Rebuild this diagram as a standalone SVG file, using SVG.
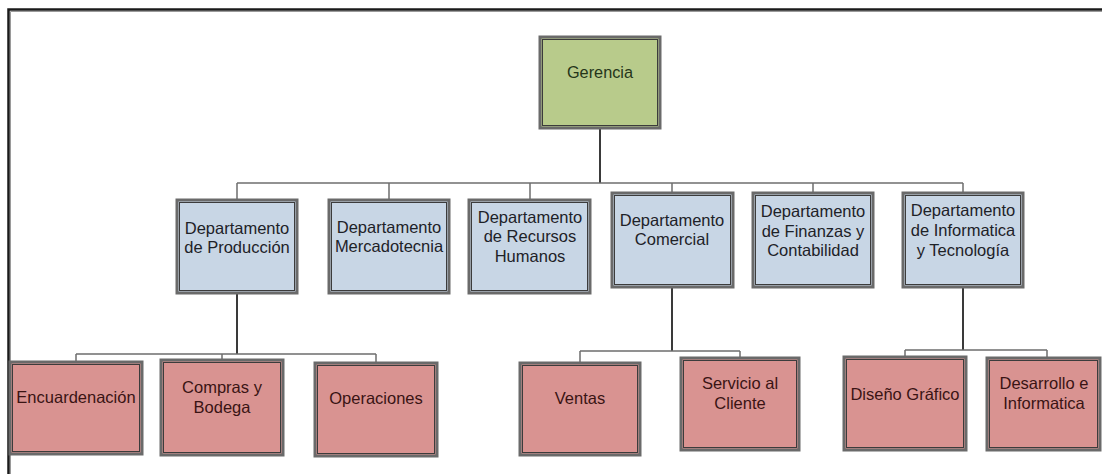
<svg xmlns="http://www.w3.org/2000/svg" width="1102" height="474" viewBox="0 0 1102 474">
<style>
.box{stroke:#6a6a6a;stroke-width:3}
.inner{fill:none;stroke:#3c3c3c;stroke-width:1}
.g{fill:#b8cb8b}
.b{fill:#c8d6e5}
.r{fill:#d99391}
text{font-family:"Liberation Sans",Arial,sans-serif;font-size:16.5px;text-anchor:middle}
.tg{fill:#25351a;font-size:16.3px}
.tb{fill:#1e2228}
.tr{fill:#3a1414}
.thin{stroke:#6e6e6e;stroke-width:1.5;fill:none}
.thick{stroke:#3a3a3a;stroke-width:2;fill:none}
</style>
<rect x="0" y="0" width="1102" height="474" fill="#ffffff"/>
<path d="M8.5,474 V9.5 H1102" fill="none" stroke="#1a1a1a" stroke-width="2.5"/>
<path d="M10.5,474 V11.5 H1102" fill="none" stroke="#9a9a9a" stroke-width="1"/>

<g id="connectors">
  <path class="thick" d="M600,128 V183" stroke="#111"/>
  <path class="thin" d="M237,183 H963"/>
  <path class="thin" d="M237,183 V200 M389,183 V200 M530,183 V200 M672,183 V193 M813,183 V193 M963,183 V193"/>
  <path class="thick" d="M237,293 V354"/>
  <path class="thin" d="M76,354 H376 M76,354 V362 M222,354 V360 M376,354 V363"/>
  <path class="thick" d="M672,287 V351"/>
  <path class="thin" d="M580,351 H740 M580,351 V363 M740,351 V358"/>
  <path class="thick" d="M963,287 V350"/>
  <path class="thin" d="M905,350 H1047 M905,350 V357 M1047,350 V358"/>
</g>

<g id="gerencia">
  <rect class="box g" x="540" y="37" width="120" height="91"/>
  <rect class="inner" x="542.5" y="39.5" width="115" height="86"/>
  <text class="tg" x="600" y="78">Gerencia</text>
</g>

<g id="dep-produccion">
  <rect class="box b" x="177" y="200" width="120" height="93"/>
  <rect class="inner" x="179.5" y="202.5" width="115" height="88"/>
  <text class="tb" x="237" y="234">Departamento</text>
  <text class="tb" x="237" y="253">de Producción</text>
</g>
<g id="dep-mercadotecnia">
  <rect class="box b" x="329" y="200" width="120" height="93"/>
  <rect class="inner" x="331.5" y="202.5" width="115" height="88"/>
  <text class="tb" x="389" y="233">Departamento</text>
  <text class="tb" x="389" y="252">Mercadotecnia</text>
</g>
<g id="dep-recursos">
  <rect class="box b" x="469" y="200" width="121" height="93"/>
  <rect class="inner" x="471.5" y="202.5" width="116" height="88"/>
  <text class="tb" x="530" y="223">Departamento</text>
  <text class="tb" x="530" y="242">de Recursos</text>
  <text class="tb" x="530" y="262">Humanos</text>
</g>
<g id="dep-comercial">
  <rect class="box b" x="612" y="193" width="121" height="94"/>
  <rect class="inner" x="614.5" y="195.5" width="116" height="89"/>
  <text class="tb" x="672" y="226">Departamento</text>
  <text class="tb" x="672" y="245">Comercial</text>
</g>
<g id="dep-finanzas">
  <rect class="box b" x="753" y="193" width="120" height="94"/>
  <rect class="inner" x="755.5" y="195.5" width="115" height="89"/>
  <text class="tb" x="813" y="217">Departamento</text>
  <text class="tb" x="813" y="237">de Finanzas y</text>
  <text class="tb" x="813" y="256">Contabilidad</text>
</g>
<g id="dep-informatica">
  <rect class="box b" x="903" y="193" width="120" height="94"/>
  <rect class="inner" x="905.5" y="195.5" width="115" height="89"/>
  <text class="tb" x="963" y="216">Departamento</text>
  <text class="tb" x="963" y="236">de Informatica</text>
  <text class="tb" x="963" y="256">y Tecnología</text>
</g>

<g id="sub-encuardenacion">
  <rect class="box r" x="10" y="362" width="132" height="92"/>
  <rect class="inner" x="12.5" y="364.5" width="127" height="87"/>
  <text class="tr" x="76" y="403">Encuardenación</text>
</g>
<g id="sub-compras">
  <rect class="box r" x="161" y="360" width="122" height="95"/>
  <rect class="inner" x="163.5" y="362.5" width="117" height="90"/>
  <text class="tr" x="222" y="393">Compras y</text>
  <text class="tr" x="222" y="413">Bodega</text>
</g>
<g id="sub-operaciones">
  <rect class="box r" x="315" y="363" width="122" height="93"/>
  <rect class="inner" x="317.5" y="365.5" width="117" height="88"/>
  <text class="tr" x="376" y="404">Operaciones</text>
</g>
<g id="sub-ventas">
  <rect class="box r" x="520" y="363" width="120" height="92"/>
  <rect class="inner" x="522.5" y="365.5" width="115" height="87"/>
  <text class="tr" x="580" y="404">Ventas</text>
</g>
<g id="sub-servicio">
  <rect class="box r" x="681" y="358" width="118" height="92"/>
  <rect class="inner" x="683.5" y="360.5" width="113" height="87"/>
  <text class="tr" x="740" y="389">Servicio al</text>
  <text class="tr" x="740" y="409">Cliente</text>
</g>
<g id="sub-diseno">
  <rect class="box r" x="844" y="357" width="122" height="93"/>
  <rect class="inner" x="846.5" y="359.5" width="117" height="88"/>
  <text class="tr" x="905" y="400">Diseño Gráfico</text>
</g>
<g id="sub-desarrollo">
  <rect class="box r" x="987" y="358" width="113" height="92"/>
  <rect class="inner" x="989.5" y="360.5" width="108" height="87"/>
  <text class="tr" x="1044" y="389">Desarrollo e</text>
  <text class="tr" x="1044" y="409">Informatica</text>
</g>
</svg>
